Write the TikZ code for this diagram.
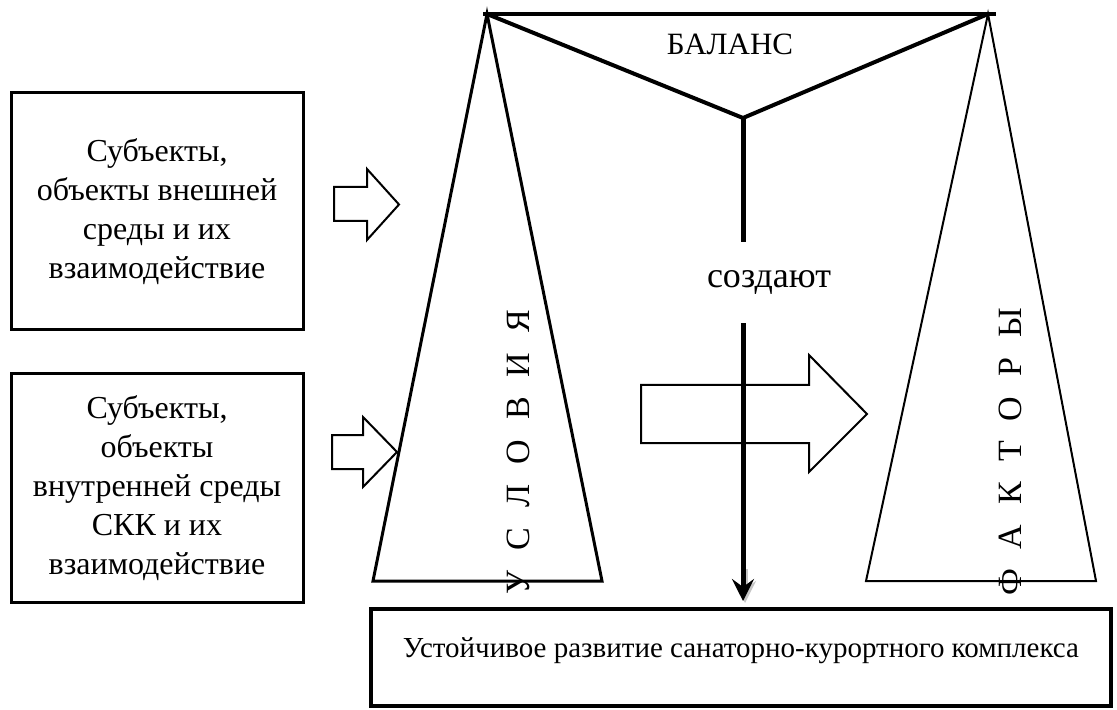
\documentclass[tikz,border=0pt]{standalone}
\usepackage{fontspec}
\setmainfont{Liberation Serif}
\usetikzlibrary{positioning,arrows.meta}

\begin{document}
\begin{tikzpicture}[
  x=0.5pt, y=-0.5pt,
  srcbox/.style={draw, line width=1.5pt, align=center, inner sep=0pt, minimum width=146pt, font=\fontsize{16}{19.5}\selectfont},
  goalbox/.style={draw, line width=2pt, inner sep=0pt, minimum width=370pt, minimum height=48.5pt, text height=10pt, text depth=10pt, font=\fontsize{14.5}{17}\selectfont},
  blockarrow/.style={draw, fill=white, line width=1pt, line join=miter},
  lefttri/.style={line width=1.5pt, line join=miter},
  righttri/.style={line width=1pt, line join=miter},
  beam/.style={line width=2pt, line join=round},
  stem/.style={line width=2.5pt},
  stemtip/.style={-{Stealth[length=11pt, width=11pt, inset=4pt]}, shorten >=3pt},
  vtext/.style={rotate=90, inner sep=0pt, font=\fontsize{17}{20}\selectfont, execute at begin node={\spaceskip=10pt\relax}},
  verb/.style={inner sep=0pt, minimum height=40.5pt, font=\fontsize{18}{22}\selectfont}
]
\useasboundingbox (0,0) rectangle (1117,710);

% left side: sources
\node[srcbox, minimum height=118.5pt] (ext) at (157,211.5) {Субъекты,\\объекты внешней\\среды и их\\взаимодействие};
\node[srcbox, minimum height=114pt] (int) at (157,488) {Субъекты,\\объекты\\внутренней среды\\СКК и их\\взаимодействие};

% block arrows
\draw[blockarrow] (334,187) -- (367,187) -- (367,169) -- (399,204.5) -- (367,240) -- (367,221) -- (334,221) -- cycle;
\draw[blockarrow] (332,435) -- (363,435) -- (363,417) -- (397,452) -- (363,487) -- (363,469) -- (332,469) -- cycle;
\draw[blockarrow] (641,385) -- (809,385) -- (809,355) -- (867,414) -- (809,472) -- (809,443) -- (641,443) -- cycle;

% scales
\coordinate (lapex) at (487,14);
\coordinate (rapex) at (988,14);
\coordinate (vbot) at (743,118);
\draw[lefttri] (lapex) -- (373,581) -- (602,581) -- cycle;
\draw[righttri] (rapex) -- (866,581) -- (1096,581) -- cycle;
\draw[beam, shorten <=-2pt, shorten >=-4pt] (lapex) -- (rapex);
\draw[beam] (lapex) -- (vbot) -- (rapex);
\node[font=\fontsize{15.5}{18}\selectfont] (balance) at (730,44) {БАЛАНС};

\node[vtext] (cond) at (518,452) {У С Л О В И Я};
\node[vtext] (fact) at (1010,452) {Ф А К Т О Р Ы};

% result
\node[goalbox] (goal) at (741,657.5) {Устойчивое развитие санаторно-курортного комплекса};
\node[verb] (create) at (769,282.5) {создают};
\draw[stem] (vbot) -- (vbot |- create.north);
\draw[stem, stemtip, gray!45, transform canvas={xshift=1pt, yshift=-1pt}] ([yshift=20pt]vbot |- goal.north) -- (vbot |- goal.north);
\draw[stem, stemtip] (vbot |- create.south) -- (vbot |- goal.north);
\end{tikzpicture}
\end{document}
